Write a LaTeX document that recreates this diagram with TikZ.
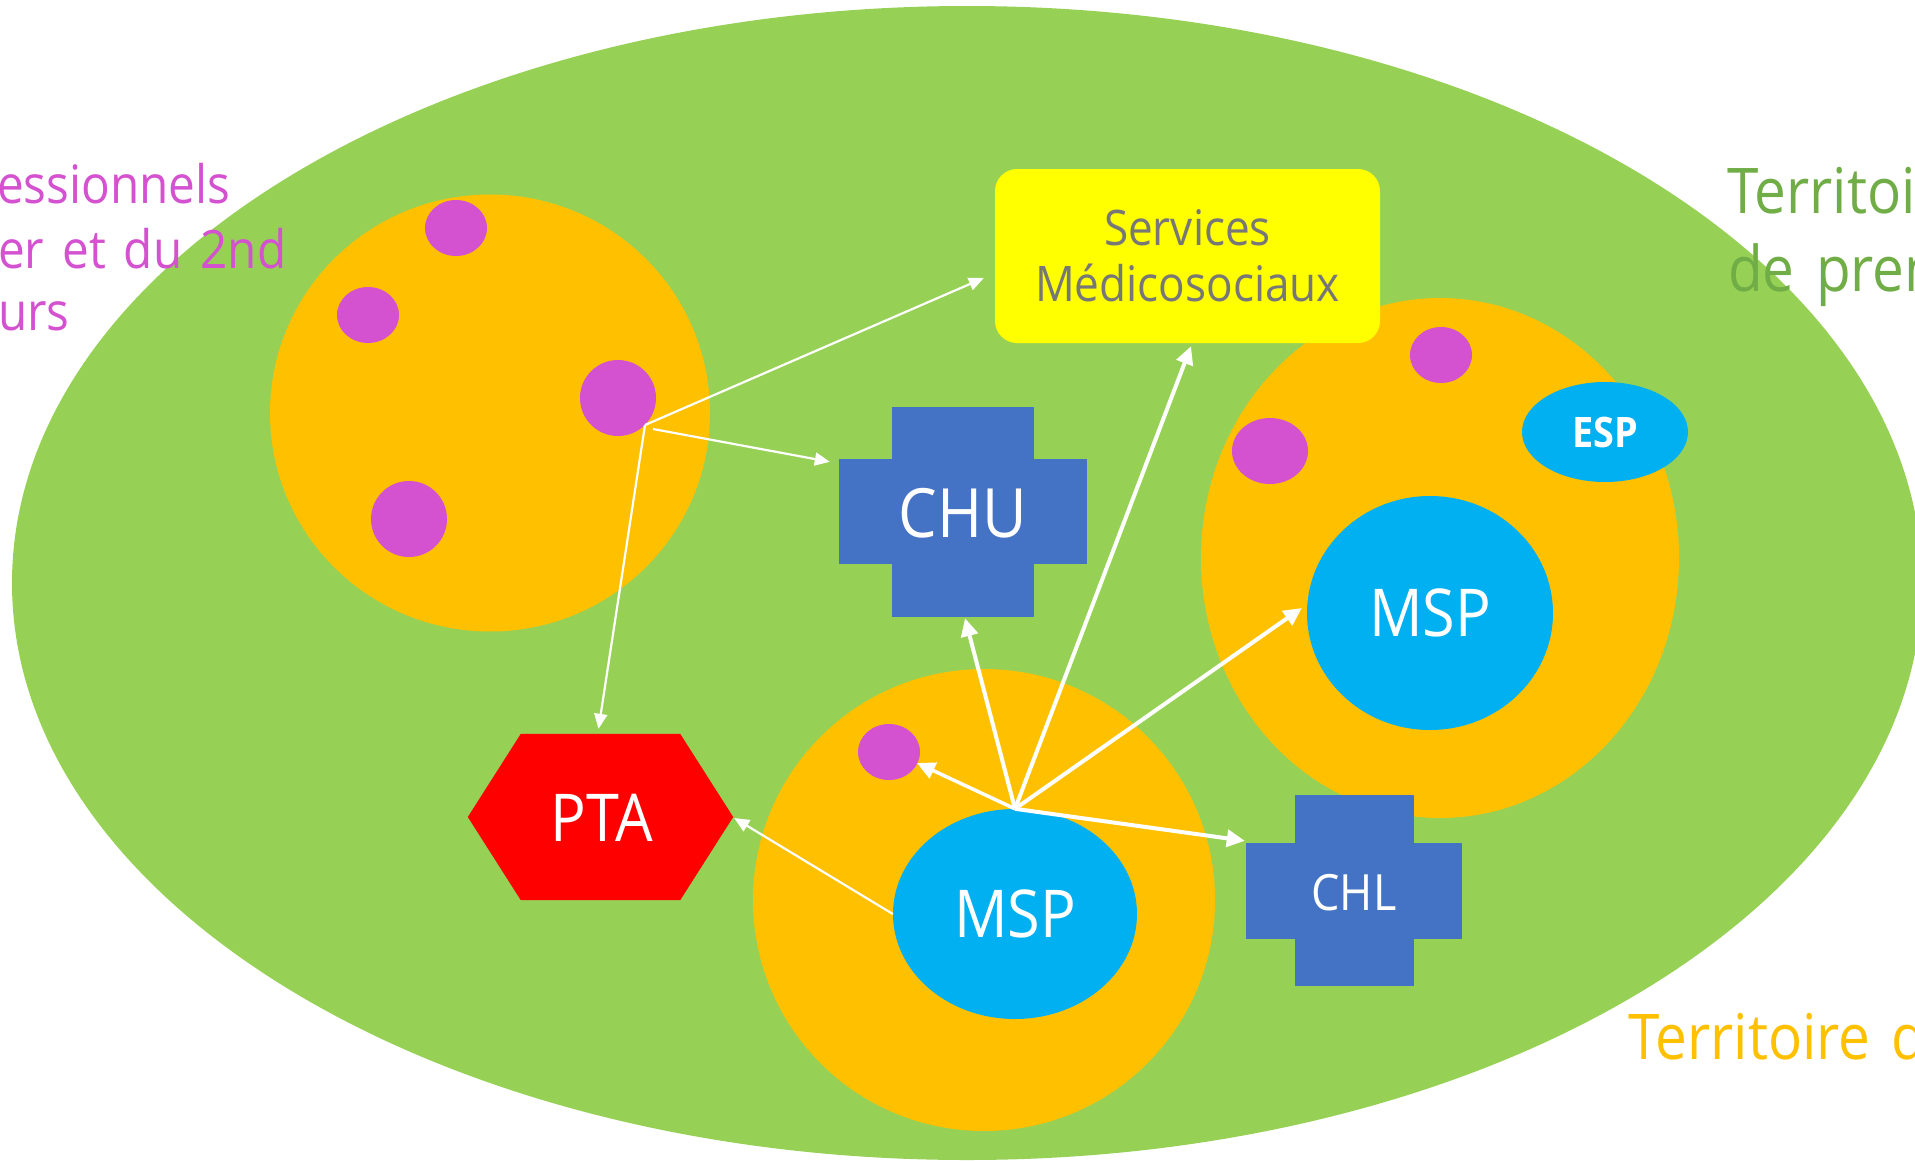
\documentclass[tikz,border=0pt]{standalone}
\usepackage{fontspec}
\setmainfont{Open Sans}[FakeStretch=0.9, WordSpace=1.45]
\usetikzlibrary{shapes.geometric,arrows.meta,calc}
\definecolor{terrgreen}{HTML}{96D155}
\definecolor{gorange}{HTML}{FFC000}
\definecolor{dotpurple}{HTML}{D452D0}
\definecolor{crossblue}{HTML}{4472C4}
\definecolor{mspcyan}{HTML}{00B0F0}
\definecolor{ptared}{HTML}{FF0000}
\definecolor{svcyellow}{HTML}{FFFF00}
\definecolor{txtgreen}{HTML}{70AD47}
\definecolor{txtgray}{HTML}{777777}
\tikzset{
  blob/.style={ellipse, inner sep=0pt, draw=none},
  zone/.style={blob, fill=gorange},
  pdot/.style={blob, fill=dotpurple},
  msp/.style={blob, fill=mspcyan, text=white},
  bar/.style={rectangle, inner sep=0pt, fill=crossblue, draw=none},
  lbl/.style={inner sep=0pt, text=white},
  thinarrow/.style={draw=white, line width=2.2pt, -{Triangle[length=15pt,width=13pt]}},
  thickarrow/.style={draw=white, line width=4pt, -{Triangle[length=18pt,width=17pt]}},
  sidetext/.style={inner sep=0pt, anchor=base west},
}
\begin{document}
\begin{tikzpicture}[x=1pt,y=-1pt]
\useasboundingbox (0,0) rectangle (1915,1160);
% territory
\node[blob, fill=terrgreen, minimum width=1910pt, minimum height=1154pt] (terr) at (967,583) {};
% zones
\node[zone, minimum width=440pt, minimum height=437pt] (zoneL) at (490,413) {};
\node[zone, minimum width=478pt, minimum height=520pt] (zoneR) at (1440,558) {};
\node[zone, minimum width=462pt, minimum height=462pt] (zoneB) at (984,900) {};
% purple dots
\node[pdot, minimum width=62pt, minimum height=56pt] (dotL1) at (456,228) {};
\node[pdot, minimum width=62pt, minimum height=56pt] (dotL2) at (368,315) {};
\node[pdot, minimum width=76pt, minimum height=76pt] (dotL3) at (618,398) {};
\node[pdot, minimum width=76pt, minimum height=76pt] (dotL4) at (409,519) {};
\node[pdot, minimum width=62pt, minimum height=56pt] (dotR1) at (1441,355) {};
\node[pdot, minimum width=76pt, minimum height=66pt] (dotR2) at (1270,451) {};
\node[pdot, minimum width=62pt, minimum height=56pt] (dotB) at (889,752) {};
% ESP and MSP
\node[msp, minimum width=166pt, minimum height=100pt, font=\bfseries\fontsize{42}{50}\selectfont] (esp) at (1605,432) {ESP};
\node[msp, minimum width=246pt, minimum height=234pt, font=\fontsize{66}{78}\selectfont] (mspR) at (1430,613) {MSP};
\node[msp, minimum width=244pt, minimum height=210pt, font=\fontsize{66}{78}\selectfont] (mspB) at (1015,914) {MSP};
% Services
\node[fill=svcyellow, rounded corners=22pt, minimum width=385pt, minimum height=174pt, inner sep=0pt,
      text=txtgray, align=center, font=\fontsize{49}{56}\selectfont] (svc) at (1187.5,256) {Services\\Médicosociaux};
% CHU cross
\node[bar, minimum width=142pt, minimum height=210pt] (chuv) at (963,512) {};
\node[bar, minimum width=248pt, minimum height=105pt] (chuh) at (963,511.5) {};
\node[lbl, font=\fontsize{68}{80}\selectfont] (chu) at (963,513) {CHU};
% CHL cross
\node[bar, minimum width=119pt, minimum height=191pt] (chlv) at (1354.5,890.5) {};
\node[bar, minimum width=216pt, minimum height=96pt] (chlh) at (1354,891) {};
\node[lbl, font=\fontsize{50}{60}\selectfont] (chl) at (1354,893) {CHL};
% PTA hexagon
\node[inner sep=0pt, minimum width=265pt, minimum height=166pt] (pta) at (600.5,817) {};
\fill[ptared] (pta.west) -- ([xshift=53pt]pta.north west) -- ([xshift=-53pt]pta.north east)
  -- (pta.east) -- ([xshift=-53pt]pta.south east) -- ([xshift=53pt]pta.south west) -- cycle;
\node[lbl, font=\fontsize{66}{78}\selectfont] (ptalbl) at (602,818) {PTA};
% side texts
\node[sidetext, text=dotpurple, font=\fontsize{53}{64}\selectfont] (lt1) at (-3,203) {essionnels};
\node[sidetext, text=dotpurple, font=\fontsize{53}{64}\selectfont] (lt2) at (-2,268) {er et du 2nd};
\node[sidetext, text=dotpurple, font=\fontsize{53}{64}\selectfont] (lt3) at (-2,330) {urs};
\node[sidetext, text=txtgreen, font=\fontsize{63}{76}\selectfont] (rt1) at (1727,213) {Territoi};
\node[sidetext, text=txtgreen, font=\fontsize{63}{76}\selectfont] (rt2) at (1728,291) {de prem};
\node[sidetext, text=gorange, font=\fontsize{63}{76}\selectfont] (bt1) at (1628,1059) {Territoire d};
% hubs
\coordinate (hubL) at ([shift={(27,27)}]dotL3.center);
\coordinate (hubL2) at ([shift={(35,31)}]dotL3.center);
\coordinate (hubB) at (mspB.north);
% arrows from left zone
\draw[thinarrow] (hubL) -- ([shift={(-11,22)}]svc.west);
\draw[thinarrow] (hubL2) -- ([shift={(-9,3)}]chuh.north west);
\draw[thinarrow] (hubL) -- ([shift={(-2,-5)}]pta.north);
% arrows from bottom MSP
\draw[thickarrow] (hubB) -- ([shift={(2,1)}]chuv.south);
\draw[thickarrow] (hubB) -- ([shift={(3.5,3)}]svc.south);
\draw[thickarrow] (hubB) -- ([shift={(-5,-5)}]mspR.west);
\draw[thickarrow, line width=3.5pt] (hubB) -- ([shift={(28,11)}]dotB.center);
\draw[thickarrow] (hubB) -- ([shift={(-1,-2)}]chlh.north west);
\draw[thinarrow] (mspB.west) -- ([shift={(1,1)}]pta.east);
\end{tikzpicture}
\end{document}
